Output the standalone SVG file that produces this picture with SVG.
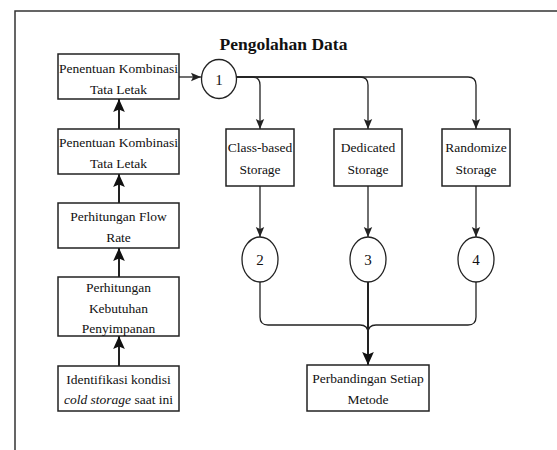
<svg xmlns="http://www.w3.org/2000/svg" width="557" height="450" viewBox="0 0 557 450">
<defs>
<style>
.box{fill:#fff;stroke:#222;stroke-width:1.5}
.circ{fill:#fff;stroke:#222;stroke-width:1.3}
.t{font-family:'Liberation Serif','Tinos','DejaVu Serif','Noto Serif',serif;font-size:13.5px;fill:#111;text-anchor:middle}
.n{font-family:'Liberation Serif','Tinos','DejaVu Serif','Noto Serif',serif;font-size:15px;fill:#111;text-anchor:middle}
.ttl{font-family:'Liberation Serif','Tinos','DejaVu Serif','Noto Serif',serif;font-size:17.5px;font-weight:bold;fill:#111;text-anchor:middle}
.c{fill:none;stroke:#222;stroke-width:1.3}
.cb{fill:none;stroke:#222;stroke-width:2}
.frame{fill:none;stroke:#333;stroke-width:1.5}
</style>
<marker id="ah" markerUnits="userSpaceOnUse" markerWidth="10" markerHeight="10" viewBox="0 0 10 10" refX="10" refY="5" orient="auto">
<path d="M0,0.8 L10,5 L0,9.2 L2,5 Z" fill="#222"/>
</marker>
<marker id="ahb" markerUnits="userSpaceOnUse" markerWidth="13" markerHeight="13" viewBox="0 0 10 10" refX="10" refY="5" orient="auto">
<path d="M0,0.5 L10,5 L0,9.5 L2,5 Z" fill="#111"/>
</marker>
</defs>
<rect width="557" height="450" fill="#fff"/>
<path class="frame" d="M15,450 V11 H557"/>
<text class="ttl" x="283.5" y="50">Pengolahan Data</text>

<g id="connectors">
<path class="c" d="M179,77 H201" marker-end="url(#ah)"/>
<path class="c" d="M236,77 H252 Q260,77 260,85 V129" marker-end="url(#ah)"/>
<path class="c" d="M236,77 H360 Q368,77 368,85 V129" marker-end="url(#ah)"/>
<path class="c" d="M236,77 H468 Q476,77 476,85 V129" marker-end="url(#ah)"/>
<path class="c" d="M260,186 V237" marker-end="url(#ah)"/>
<path class="c" d="M368,186 V237" marker-end="url(#ah)"/>
<path class="c" d="M476,186 V237" marker-end="url(#ah)"/>
<path class="c" d="M260,282 V317 Q260,325 268,325 H360 Q368,325 368,333"/>
<path class="c" d="M476,282 V317 Q476,325 468,325 H376 Q368,325 368,333"/>
<path class="cb" d="M368,282 V365" marker-end="url(#ahb)"/>
<path class="cb" d="M119,366 V336" marker-end="url(#ahb)"/>
<path class="cb" d="M119,277 V248" marker-end="url(#ahb)"/>
<path class="cb" d="M119,203 V174" marker-end="url(#ahb)"/>
<path class="cb" d="M119,129 V99" marker-end="url(#ahb)"/>
</g>

<g id="box-penentuan-1">
<rect class="box" x="58" y="54" width="121" height="45"/>
<text class="t" x="118.5" y="73">Penentuan Kombinasi</text>
<text class="t" x="118.5" y="94">Tata Letak</text>
</g>
<g id="box-penentuan-2">
<rect class="box" x="58" y="129" width="121" height="45"/>
<text class="t" x="118.5" y="147">Penentuan Kombinasi</text>
<text class="t" x="118.5" y="168">Tata Letak</text>
</g>
<g id="box-flow-rate">
<rect class="box" x="58" y="203" width="121" height="45"/>
<text class="t" x="118.5" y="221">Perhitungan Flow</text>
<text class="t" x="118.5" y="242">Rate</text>
</g>
<g id="box-kebutuhan">
<rect class="box" x="58" y="277" width="121" height="59"/>
<text class="t" x="118.5" y="292">Perhitungan</text>
<text class="t" x="118.5" y="313">Kebutuhan</text>
<text class="t" x="118.5" y="333">Penyimpanan</text>
</g>
<g id="box-identifikasi">
<rect class="box" x="58" y="366" width="121" height="45"/>
<text class="t" x="118.5" y="384">Identifikasi kondisi</text>
<text class="t" x="118.5" y="404"><tspan font-style="italic">cold storage</tspan> saat ini</text>
</g>

<g id="circle-1">
<ellipse class="circ" cx="219" cy="79" rx="17.5" ry="19.5"/>
<text class="n" x="219" y="85">1</text>
</g>

<g id="box-class-based">
<rect class="box" x="226" y="129" width="68" height="57"/>
<text class="t" x="260" y="152">Class-based</text>
<text class="t" x="260" y="174">Storage</text>
</g>
<g id="box-dedicated">
<rect class="box" x="334" y="129" width="68" height="57"/>
<text class="t" x="368" y="152">Dedicated</text>
<text class="t" x="368" y="174">Storage</text>
</g>
<g id="box-randomize">
<rect class="box" x="442" y="129" width="68" height="57"/>
<text class="t" x="476" y="152">Randomize</text>
<text class="t" x="476" y="174">Storage</text>
</g>

<g id="circle-2">
<ellipse class="circ" cx="260" cy="259.5" rx="18" ry="22.5"/>
<text class="n" x="260" y="265">2</text>
</g>
<g id="circle-3">
<ellipse class="circ" cx="368" cy="259.5" rx="18" ry="22.5"/>
<text class="n" x="368" y="265">3</text>
</g>
<g id="circle-4">
<ellipse class="circ" cx="476" cy="259.5" rx="18" ry="22.5"/>
<text class="n" x="476" y="265">4</text>
</g>

<g id="box-perbandingan">
<rect class="box" x="307" y="365" width="122" height="46"/>
<text class="t" x="368" y="383">Perbandingan Setiap</text>
<text class="t" x="368" y="404">Metode</text>
</g>
</svg>
